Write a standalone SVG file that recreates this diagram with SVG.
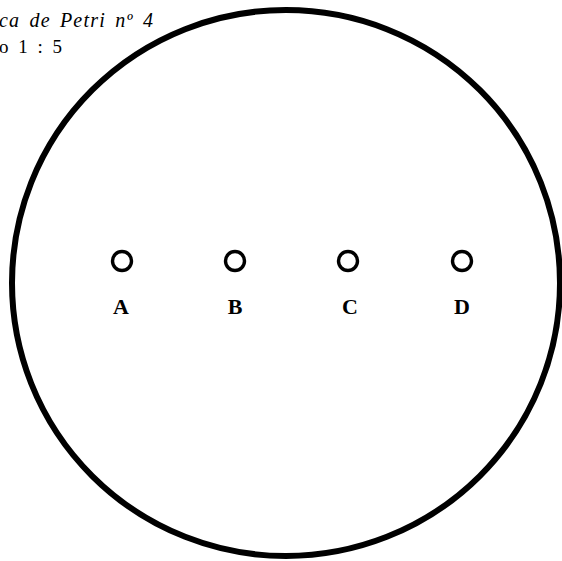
<svg xmlns="http://www.w3.org/2000/svg" width="562" height="561" viewBox="0 0 562 561">
<style>
.dish{fill:none;stroke:#000;stroke-width:6}
.well{fill:none;stroke:#000;stroke-width:3.4}
.lbl{font-family:"Liberation Serif",serif;font-weight:bold;font-size:22px;text-anchor:middle;fill:#000}
.cap{font-family:"Liberation Serif",serif;font-style:italic;font-size:20px;letter-spacing:1.2px;word-spacing:3px;fill:#000}
.cap2{font-family:"Liberation Serif",serif;font-size:19px;letter-spacing:1.5px;word-spacing:2px;fill:#000}
</style>
<rect width="562" height="561" fill="#fff"/>
<g id="caption">
<text class="cap" x="-1" y="27">ca de Petri nº 4</text>
<text class="cap2" x="-1" y="53">o 1 : 5</text>
</g>
<g id="dish"><ellipse class="dish" cx="286" cy="283" rx="274" ry="273"/></g>
<g id="wellA"><circle class="well" cx="122" cy="261" r="9.5"/><text class="lbl" x="121" y="314">A</text></g>
<g id="wellB"><circle class="well" cx="235" cy="261" r="9.5"/><text class="lbl" x="235" y="314">B</text></g>
<g id="wellC"><circle class="well" cx="348" cy="261" r="9.5"/><text class="lbl" x="350" y="314">C</text></g>
<g id="wellD"><circle class="well" cx="462" cy="261" r="9.5"/><text class="lbl" x="462" y="314">D</text></g>
<g id="connectors"></g>
</svg>
